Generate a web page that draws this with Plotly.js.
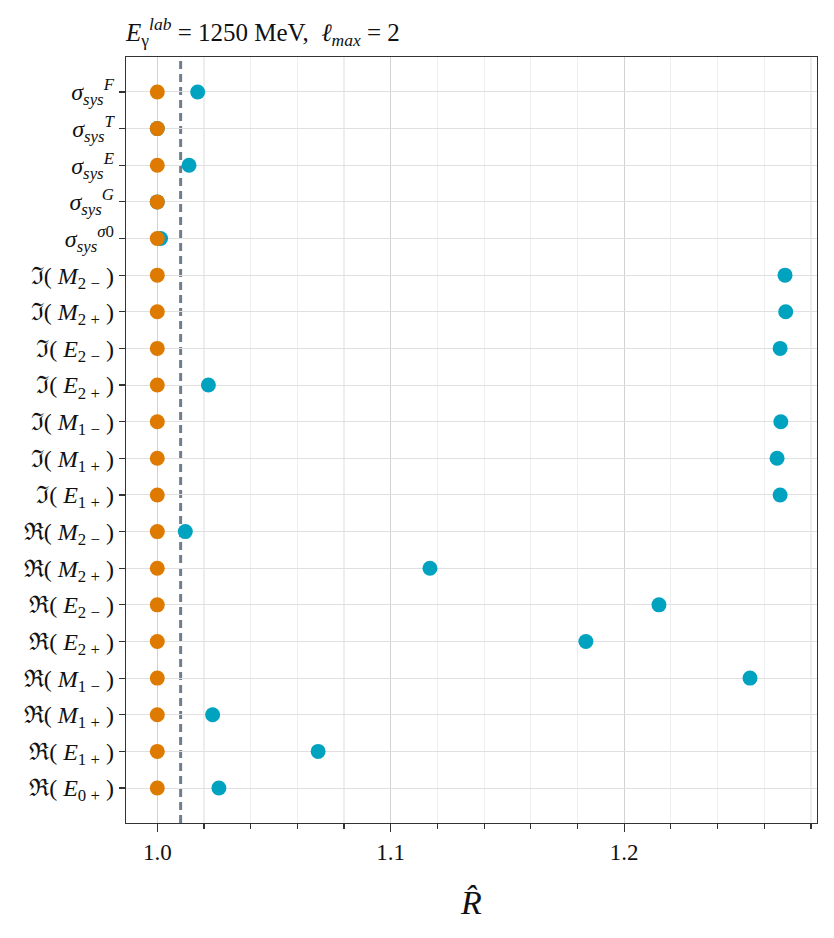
<!DOCTYPE html>
<html>
<head>
<meta charset="utf-8">
<script src="https://cdn.plot.ly/plotly-3.0.1.min.js"></script>
<style>
  html, body { margin: 0; padding: 0; background: #fff; }
  #chart { width: 834px; height: 938px; }
</style>
</head>
<body>
<div id="chart"></div>
<script>
// rows, top to bottom
let labels = [
  '<i>σ</i><sub><i>sys</i></sub><sup><i>F</i></sup>',
  '<i>σ</i><sub><i>sys</i></sub><sup><i>T</i></sup>',
  '<i>σ</i><sub><i>sys</i></sub><sup><i>E</i></sup>',
  '<i>σ</i><sub><i>sys</i></sub><sup><i>G</i></sup>',
  '<i>σ</i><sub><i>sys</i></sub><sup><i>σ</i>0</sup>',
  'ℑ( <i>M</i><sub>2 −</sub> )',
  'ℑ( <i>M</i><sub>2 +</sub> )',
  'ℑ( <i>E</i><sub>2 −</sub> )',
  'ℑ( <i>E</i><sub>2 +</sub> )',
  'ℑ( <i>M</i><sub>1 −</sub> )',
  'ℑ( <i>M</i><sub>1 +</sub> )',
  'ℑ( <i>E</i><sub>1 +</sub> )',
  'ℜ( <i>M</i><sub>2 −</sub> )',
  'ℜ( <i>M</i><sub>2 +</sub> )',
  'ℜ( <i>E</i><sub>2 −</sub> )',
  'ℜ( <i>E</i><sub>2 +</sub> )',
  'ℜ( <i>M</i><sub>1 −</sub> )',
  'ℜ( <i>M</i><sub>1 +</sub> )',
  'ℜ( <i>E</i><sub>1 +</sub> )',
  'ℜ( <i>E</i><sub>0 +</sub> )',
];

let r_fit = [
  1.0173, 1.0, 1.0136, 1.0, 1.0014,
  1.2689, 1.2692, 1.2668, 1.0219, 1.2671, 1.2655, 1.2668,
  1.012, 1.1168, 1.2149, 1.1836, 1.2539, 1.0237, 1.0689, 1.0264,
];
let r_ref = [
  1.0, 1.0, 1.0, 1.0, 1.0,
  1.0, 1.0, 1.0, 1.0, 1.0, 1.0, 1.0,
  1.0, 1.0, 1.0, 1.0, 1.0, 1.0, 1.0, 1.0,
];
let threshold = 1.01;

let serif = 'Liberation Serif, DejaVu Serif, serif';
let orange = '#de7a00';
let blue = '#00a3bf';

let data = [
  {
    x: r_fit,
    y: labels,
    type: 'scatter',
    mode: 'markers',
    marker: { color: blue, size: 15 },
    name: 'fit',
  },
  {
    x: r_ref,
    y: labels,
    type: 'scatter',
    mode: 'markers',
    marker: { color: orange, size: 15 },
    name: 'ref',
  },
];

Plotly.newPlot(
  'chart',
  data,
  {
    width: 834,
    height: 938,
    paper_bgcolor: '#fff',
    plot_bgcolor: '#fff',
    showlegend: false,
    font: { family: serif, color: '#111' },
    margin: { t: 57, r: 17, b: 115, l: 126 },
    title: {
      text: '<i>E</i><sub>γ</sub><sup><i>lab</i></sup> = 1250 MeV,  <i>ℓ</i><sub><i>max</i></sub> = 2',
      font: { family: serif, size: 25, color: '#111' },
      x: 126 / 834,
      xanchor: 'left',
      y: 0.966,
      yanchor: 'middle',
    },
    xaxis: {
      range: [0.9866, 1.2826],
      dtick: 0.1,
      tick0: 1.0,
      tickformat: '.1f',
      ticks: 'outside',
      ticklen: 8,
      tickwidth: 1.2,
      tickcolor: '#333',
      tickfont: { family: serif, size: 23 },
      showline: true,
      linecolor: '#333',
      linewidth: 1.3,
      mirror: true,
      showgrid: true,
      gridcolor: '#d2d2d2',
      gridwidth: 1.2,
      zeroline: false,
      minor: {
        dtick: 0.02,
        ticks: 'outside',
        ticklen: 5,
        tickcolor: '#333',
        showgrid: true,
        gridcolor: '#eeeeee',
      },
      title: {
        text: '<i>R̂</i>',
        font: { family: serif, size: 34 },
        standoff: 26,
      },
    },
    yaxis: {
      type: 'category',
      categoryorder: 'array',
      categoryarray: labels,
      range: [19.955, -0.955],
      ticks: 'outside',
      ticklen: 6,
      tickwidth: 1.2,
      tickcolor: '#333',
      tickfont: { family: serif, size: 24 },
      showline: true,
      linecolor: '#333',
      linewidth: 1.3,
      mirror: true,
      showgrid: true,
      gridcolor: '#e0e0e0',
      zeroline: false,
    },
    shapes: [
      {
        type: 'line',
        xref: 'x',
        yref: 'paper',
        x0: threshold,
        x1: threshold,
        y0: 0,
        y1: 1,
        layer: 'below',
        line: { color: '#6f7d8c', width: 3, dash: '8px,5px' },
      },
    ],
  },
  { staticPlot: true }
);
</script>
</body>
</html>
